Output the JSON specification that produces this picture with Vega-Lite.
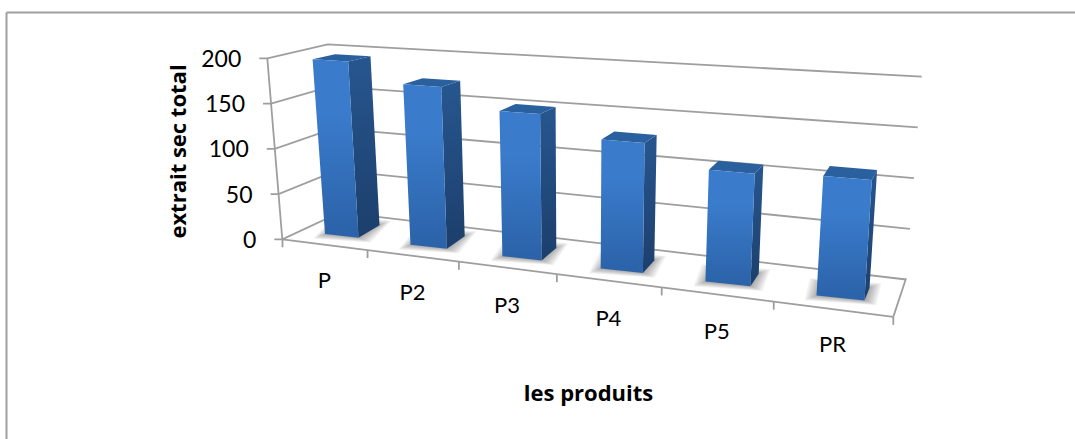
{
  "$schema": "https://vega.github.io/schema/vega-lite/v6.json",
  "width": 1069,
  "height": 427,
  "autosize": "none",
  "padding": {"left": 6, "top": 12, "right": 0, "bottom": 0},
  "background": "white",
  "config": {"view": {"stroke": null}, "font": "Lato"},
  "datasets": {
    "produits": [
      {"product": "P", "value": 190},
      {"product": "P2", "value": 170},
      {"product": "P3", "value": 150},
      {"product": "P4", "value": 130},
      {"product": "P5", "value": 110},
      {"product": "PR", "value": 115}
    ],
    "graduations": [{"v": 0}, {"v": 50}, {"v": 100}, {"v": 150}, {"v": 200}],
    "separateurs": [{"t": 0}, {"t": 1}, {"t": 2}, {"t": 3}, {"t": 4}, {"t": 5}, {"t": 6}]
  },
  "layer": [
    {
      "data": {"name": "graduations"},
      "transform": [
        {"calculate": "282.3-datum.v*0.075", "as": "fx"},
        {"calculate": "239.3-datum.v*0.905", "as": "fy"},
        {"calculate": "340-datum.v*0.0615", "as": "cx"},
        {"calculate": "212.4-datum.v*0.84", "as": "cy"},
        {"calculate": "906+datum.v*0.0785", "as": "rx"},
        {"calculate": "279.5-datum.v*1.014", "as": "ry"}
      ],
      "layer": [
        {
          "transform": [
            {"calculate": "[0,1,2,3]", "as": "c"},
            {"flatten": ["c"]},
            {"calculate": "[datum.fx-8,datum.fx,datum.cx,datum.rx][datum.c]", "as": "px"},
            {"calculate": "[datum.fy,datum.fy,datum.cy,datum.ry][datum.c]", "as": "py"}
          ],
          "mark": {"type": "line", "color": "#9e9e9e", "strokeWidth": 1.8},
          "encoding": {
            "x": {
              "field": "px", "type": "quantitative",
              "scale": {"domain": [6, 1075], "nice": false, "zero": false},
              "axis": {
                "orient": "top", "labels": false, "ticks": false, "grid": false,
                "domain": true, "domainColor": "#a0a0a0", "domainWidth": 2,
                "title": "les produits", "titleFont": "Open Sans", "titleFontSize": 22, "titleFontWeight": "bold",
                "titleColor": "#000000", "titleX": 582, "titleY": 381,
                "titleAlign": "center", "titleBaseline": "middle"
              }
            },
            "y": {
              "field": "py", "type": "quantitative",
              "scale": {"domain": [439, 12], "nice": false, "zero": false},
              "axis": {
                "orient": "left", "labels": false, "ticks": false, "grid": false,
                "domain": true, "domainColor": "#a0a0a0", "domainWidth": 2,
                "title": "extrait sec total", "titleFont": "Open Sans", "titleFontSize": 22, "titleFontWeight": "bold",
                "titleColor": "#000000", "titleX": 172, "titleY": 139,
                "titleAngle": -90, "titleAlign": "center", "titleBaseline": "middle"
              }
            },
            "detail": {"field": "v"},
            "order": {"field": "c"}
          }
        },
        {
          "mark": {"type": "line", "color": "#9e9e9e", "strokeWidth": 1.8},
          "encoding": {
            "x": {"field": "fx", "type": "quantitative"},
            "y": {"field": "fy", "type": "quantitative"},
            "order": {"field": "v"}
          }
        },
        {
          "transform": [{"calculate": "datum.fx-26", "as": "lx"}, {"calculate": "datum.fy+1.5", "as": "ly"}],
          "mark": {"type": "text", "align": "right", "baseline": "middle", "fontSize": 23, "color": "#000000"},
          "encoding": {
            "x": {"field": "lx", "type": "quantitative"},
            "y": {"field": "ly", "type": "quantitative"},
            "text": {"field": "v", "type": "quantitative"}
          }
        }
      ]
    },
    {
      "data": {"name": "separateurs"},
      "transform": [
        {"calculate": "282.5+82*datum.t+3*datum.t*datum.t+0.05*datum.t*datum.t*datum.t", "as": "tx"},
        {"calculate": "239.3+0.127*(datum.tx-282.5)", "as": "ty"},
        {"calculate": "datum.ty+8", "as": "tb"}
      ],
      "layer": [
        {
          "mark": {"type": "line", "color": "#9e9e9e", "strokeWidth": 1.8},
          "encoding": {
            "x": {"field": "tx", "type": "quantitative"},
            "y": {"field": "ty", "type": "quantitative"},
            "order": {"field": "t"}
          }
        },
        {
          "mark": {"type": "rule", "color": "#9e9e9e", "strokeWidth": 1.8},
          "encoding": {
            "x": {"field": "tx", "type": "quantitative"},
            "y": {"field": "ty", "type": "quantitative"},
            "y2": {"field": "tb"}
          }
        },
        {
          "transform": [
            {"filter": "datum.t==6"},
            {"calculate": "906", "as": "bx"},
            {"calculate": "278.5", "as": "by"}
          ],
          "mark": {"type": "rule", "color": "#9e9e9e", "strokeWidth": 1.8},
          "encoding": {
            "x": {"field": "tx", "type": "quantitative"},
            "y": {"field": "ty", "type": "quantitative"},
            "x2": {"field": "bx"},
            "y2": {"field": "by"}
          }
        }
      ]
    },
    {
      "data": {"name": "produits"},
      "transform": [
        {"calculate": "indexof(['P','P2','P3','P4','P5','PR'],datum.product)", "as": "i"},
        {"calculate": "datum.value*(0.92+0.024*datum.i)", "as": "h"},
        {"calculate": "325+82.3*datum.i+3.2*datum.i*datum.i", "as": "bl_x"},
        {"calculate": "234+10.3*datum.i+0.4*datum.i*datum.i", "as": "bl_y"},
        {"calculate": "datum.bl_x+33.5+2.9*datum.i", "as": "br_x"},
        {"calculate": "datum.bl_y+3.7+0.25*datum.i", "as": "br_y"},
        {"calculate": "datum.bl_x+datum.h*(-0.071+0.0255*datum.i)", "as": "tl_x"},
        {"calculate": "datum.bl_y-datum.h", "as": "tl_y"},
        {"calculate": "datum.br_x+datum.h*(-0.059+0.024*datum.i)", "as": "tr_x"},
        {"calculate": "datum.br_y-datum.h*1.008", "as": "tr_y"},
        {"calculate": "datum.br_x+21-3.2*datum.i", "as": "bb_x"},
        {"calculate": "datum.br_y-12.5", "as": "bb_y"},
        {"calculate": "datum.bl_x+21-3.2*datum.i", "as": "fl_x"},
        {"calculate": "datum.bl_y-12.5", "as": "fl_y"},
        {"calculate": "datum.tr_x+22.3-3.4*datum.i", "as": "tb_x"},
        {"calculate": "datum.tr_y-5.2-0.95*datum.i", "as": "tb_y"},
        {"calculate": "datum.tl_x+22.5-3.2*datum.i", "as": "lb_x"},
        {"calculate": "datum.tl_y-5-datum.i", "as": "lb_y"},
        {"calculate": "[0,1,2,3]", "as": "c"},
        {"flatten": ["c"]}
      ],
      "layer": [
        {
          "transform": [
            {"calculate": "[1.5,3,4.5,6,7.5,9,10.5,12]", "as": "e"},
            {"flatten": ["e"]},
            {"calculate": "[datum.bl_x,datum.br_x,datum.bb_x,datum.fl_x][datum.c]+datum.e*[-1,1,1,-1][datum.c]", "as": "px"},
            {"calculate": "[datum.bl_y,datum.br_y,datum.bb_y,datum.fl_y][datum.c]+0.4*datum.e*[1,1,-1,-1][datum.c]", "as": "py"},
            {"calculate": "datum.product+'-'+datum.e", "as": "ombre"}
          ],
          "mark": {"type": "line", "fill": "#000000", "fillOpacity": 0.045, "strokeWidth": 0, "stroke": null},
          "encoding": {
            "x": {"field": "px", "type": "quantitative"},
            "y": {"field": "py", "type": "quantitative"},
            "detail": {"field": "ombre"},
            "order": {"field": "c"}
          }
        },
        {
          "transform": [
            {"calculate": "[datum.tr_x,datum.tb_x,datum.bb_x,datum.br_x][datum.c]", "as": "px"},
            {"calculate": "[datum.tr_y,datum.tb_y,datum.bb_y,datum.br_y][datum.c]", "as": "py"}
          ],
          "mark": {
            "type": "line", "strokeWidth": 0, "stroke": null,
            "fill": {
              "x1": 0, "y1": 0, "x2": 0, "y2": 1, "gradient": "linear",
              "stops": [{"offset": 0, "color": "#27568f"}, {"offset": 1, "color": "#1c3f6c"}]
            }
          },
          "encoding": {
            "x": {"field": "px", "type": "quantitative"},
            "y": {"field": "py", "type": "quantitative"},
            "detail": {"field": "product"},
            "order": {"field": "c"}
          }
        },
        {
          "transform": [
            {"calculate": "[datum.tl_x,datum.lb_x,datum.tb_x,datum.tr_x][datum.c]", "as": "px"},
            {"calculate": "[datum.tl_y,datum.lb_y,datum.tb_y,datum.tr_y][datum.c]", "as": "py"}
          ],
          "mark": {"type": "line", "strokeWidth": 0, "stroke": null, "fill": "#2b609f"},
          "encoding": {
            "x": {"field": "px", "type": "quantitative"},
            "y": {"field": "py", "type": "quantitative"},
            "detail": {"field": "product"},
            "order": {"field": "c"}
          }
        },
        {
          "transform": [
            {"calculate": "[datum.tl_x,datum.tr_x,datum.br_x,datum.bl_x][datum.c]", "as": "px"},
            {"calculate": "[datum.tl_y,datum.tr_y,datum.br_y,datum.bl_y][datum.c]", "as": "py"}
          ],
          "mark": {
            "type": "line", "strokeWidth": 0, "stroke": null,
            "fill": {
              "x1": 0, "y1": 0, "x2": 0, "y2": 1, "gradient": "linear",
              "stops": [
                {"offset": 0, "color": "#3a7bcb"},
                {"offset": 0.3, "color": "#3a7bcb"},
                {"offset": 1, "color": "#2b62a8"}
              ]
            }
          },
          "encoding": {
            "x": {"field": "px", "type": "quantitative"},
            "y": {"field": "py", "type": "quantitative"},
            "detail": {"field": "product"},
            "order": {"field": "c"}
          }
        },
        {
          "transform": [
            {"filter": "datum.c==0"},
            {"calculate": "282.5+82*(datum.i+0.5)+3*(datum.i+0.5)*(datum.i+0.5)+0.05*(datum.i+0.5)*(datum.i+0.5)*(datum.i+0.5)", "as": "lx"},
            {"calculate": "280.5+12.8*datum.i", "as": "ly"}
          ],
          "mark": {"type": "text", "align": "center", "baseline": "middle", "fontSize": 22, "color": "#000000"},
          "encoding": {
            "x": {"field": "lx", "type": "quantitative"},
            "y": {"field": "ly", "type": "quantitative"},
            "text": {"field": "product", "type": "nominal"}
          }
        }
      ]
    }
  ]
}
